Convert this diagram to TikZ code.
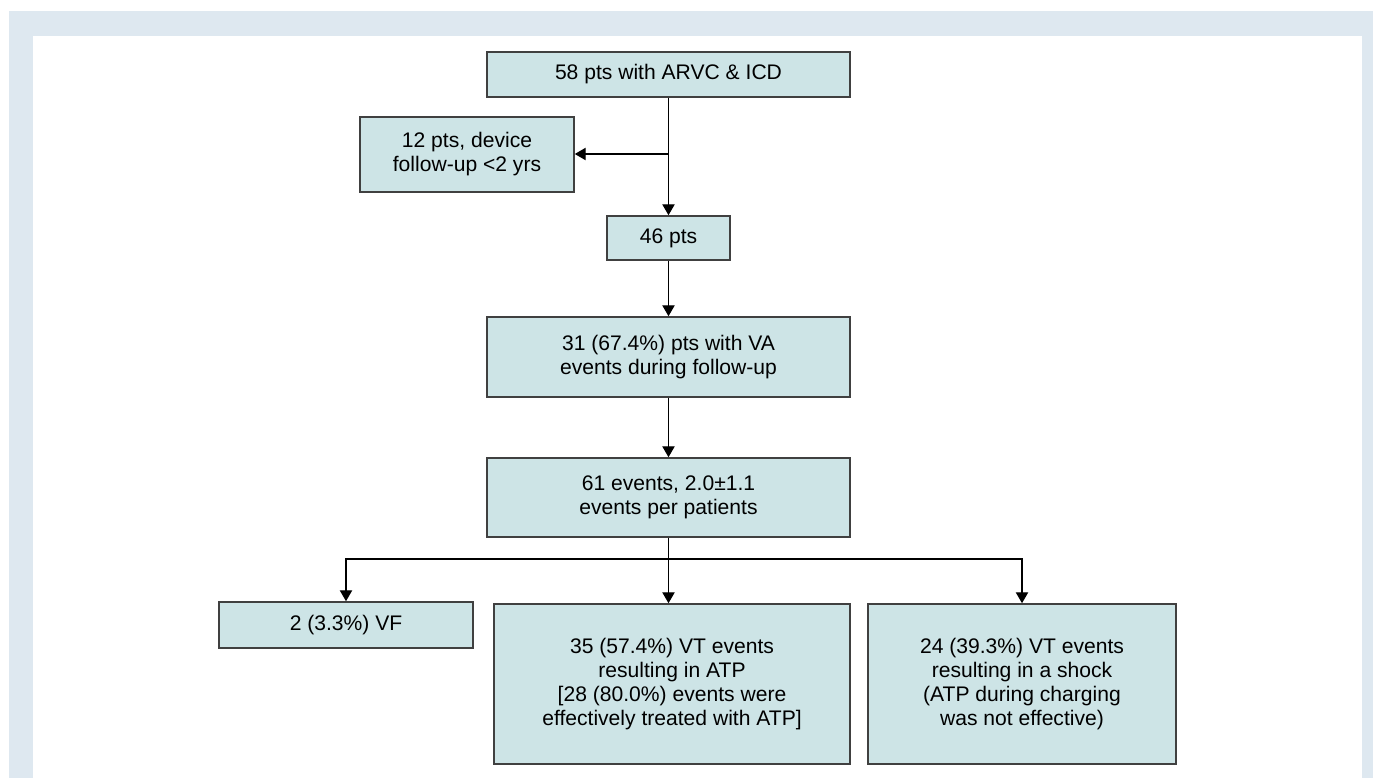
\documentclass[tikz,border=0pt]{standalone}
\usepackage{fontspec}
\setmainfont{Liberation Sans}
\usepackage{tikz}
\usetikzlibrary{arrows.meta}

\definecolor{framebg}{RGB}{222,232,240}
\definecolor{boxfill}{RGB}{205,228,230}
\definecolor{boxline}{RGB}{64,64,64}

\begin{document}
\begin{tikzpicture}[>={Triangle[length=6.2pt,width=7pt]},line width=0.7pt,
  main box/.style={rectangle,draw=boxline,fill=boxfill,line width=0.9pt,align=center,
    inner sep=0pt,font=\fontsize{12}{13.7}\selectfont}]

  \useasboundingbox (0,0) rectangle (27.46,-15.56);
  % frame
  \fill[framebg] (0.18,-0.22) rectangle (27.46,-15.56);
  \fill[white] (0.66,-0.72) rectangle (27.24,-15.56);

  \node[main box,minimum width=7.26cm,minimum height=0.9cm] (all) at (13.37,-1.49) {58 pts with ARVC \& ICD};
  \node[main box,minimum width=4.28cm,minimum height=1.5cm] (excl) at (9.34,-3.09) {12 pts, device\\follow-up <2 yrs};
  \node[main box,minimum width=2.46cm,minimum height=0.88cm] (pts) at (13.37,-4.76) {46 pts};
  \node[main box,minimum width=7.26cm,minimum height=1.6cm] (va) at (13.37,-7.14) {31 (67.4\%) pts with VA\\events during follow-up};
  \node[main box,minimum width=7.26cm,minimum height=1.58cm] (ev) at (13.37,-9.95) {61 events, 2.0±1.1\\events per patients};
  \node[main box,minimum width=5.08cm,minimum height=0.92cm] (vf) at (6.92,-12.5) {2 (3.3\%) VF};
  \node[main box,minimum width=7.12cm,minimum height=3.2cm] (atp) at (13.44,-13.68) {35 (57.4\%) VT events\\resulting in ATP\\{}[28 (80.0\%) events were\\effectively treated with ATP]};
  \node[main box,minimum width=6.16cm,minimum height=3.2cm] (shock) at (20.44,-13.68) {24 (39.3\%) VT events\\resulting in a shock\\(ATP during charging\\was not effective)};

  \coordinate (split) at (13.37,-3.08);
  \coordinate (branch) at (13.37,-11.18);

  \draw[->] (all.south) -- (pts.north);
  \draw[->] (split) -- (split -| excl.east);
  \draw[->] (pts.south) -- (va.north);
  \draw[->] (va.south) -- (ev.north);
  \draw[->] (ev.south) -- (ev.south |- atp.north);
  \draw[->] (branch) -| (vf.north);
  \draw[->] (branch) -| (shock.north);
\end{tikzpicture}
\end{document}
